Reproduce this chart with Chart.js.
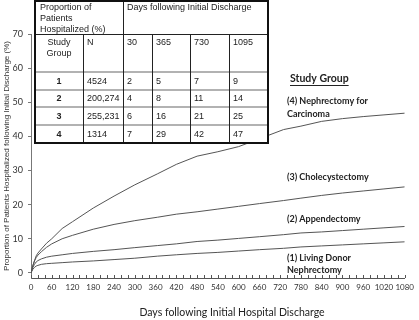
<!DOCTYPE html>
<html lang="en">
<head>
    <meta charset="UTF-8">
    <title>Hospitalization after discharge</title>
    <script src="https://cdn.jsdelivr.net/npm/chart.js"></script>
    <style>
        body { margin: 0; padding: 0; background: #fff; }
        #wrap { position: relative; width: 419px; height: 320px; }
    </style>
</head>
<body>
    <div id="wrap"><canvas id="chart" width="419" height="320"></canvas></div>

    <script>
        const days = [0, 5, 10, 15, 20, 30, 45, 60, 90, 120, 180, 240, 300, 365, 420, 480, 540, 600, 660, 730, 780, 840, 900, 960, 1020, 1080];

        // percent hospitalized, one array per study group
        const livingDonor = [0, 1.0, 1.6, 2.0, 2.2, 2.5, 2.7, 2.8, 3.0, 3.2, 3.5, 3.9, 4.3, 4.9, 5.3, 5.7, 6.0, 6.4, 6.8, 7.2, 7.6, 7.9, 8.2, 8.5, 8.8, 9.1];
        const appendectomy = [0, 1.5, 2.5, 3.2, 3.6, 4.1, 4.6, 4.9, 5.3, 5.7, 6.3, 6.8, 7.4, 8.0, 8.5, 9.2, 9.6, 10.1, 10.6, 11.2, 11.7, 12.0, 12.4, 12.8, 13.2, 13.6];
        const cholecystectomy = [0, 2.0, 3.5, 4.5, 5.2, 6.2, 7.5, 8.5, 10.0, 11.0, 12.8, 14.2, 15.3, 16.3, 17.2, 17.9, 18.7, 19.5, 20.3, 21.2, 21.9, 22.7, 23.4, 24.0, 24.6, 25.2];
        const carcinoma = [0, 2.0, 3.5, 5.0, 5.8, 7.0, 8.7, 10.0, 13.0, 15.0, 19.0, 22.5, 25.8, 29.0, 31.8, 34.2, 35.5, 37.0, 39.3, 42.0, 43.0, 44.4, 45.2, 45.8, 46.3, 46.8];

        const yTicks = [0, 10, 20, 30, 40, 50, 60, 70];

        // inset table
        const tableGroups = ['1', '2', '3', '4'];
        const tableN = ['4524', '200,274', '255,231', '1314'];
        const tableDays = ['30', '365', '730', '1095'];
        const tableValues = [
            ['2', '5', '7', '9'],
            ['4', '8', '11', '14'],
            ['6', '16', '21', '25'],
            ['7', '29', '42', '47']
        ];

        const lineColor = '#555';
        const sans = '"Liberation Sans", Arial, sans-serif';
        const humanist = 'Lato, "Open Sans", sans-serif';

        function toPoints(values) {
            return days.map((d, i) => ({ x: d, y: values[i] }));
        }

        function series(values) {
            return {
                data: toPoints(values),
                borderColor: lineColor,
                borderWidth: 1,
                pointRadius: 0,
                tension: 0,
                fill: false
            };
        }

        // table, side labels, inward x ticks, x title
        const overlay = {
            id: 'overlay',
            afterDatasetsDraw(chart) {
                const ctx = chart.ctx;
                const cols = [35, 83, 123, 152, 190, 229, 268];
                const rows = [1, 34, 72, 90, 107, 125, 143];
                ctx.save();
                ctx.fillStyle = '#fff';
                ctx.fillRect(cols[0], rows[0], cols[6] - cols[0], rows[6] - rows[0]);

                // row separators between data rows
                ctx.strokeStyle = '#999';
                ctx.lineWidth = 1.5;
                [2, 3, 4, 5].forEach(r => {
                    ctx.beginPath();
                    ctx.moveTo(cols[0], rows[r]);
                    ctx.lineTo(cols[6], rows[r]);
                    ctx.stroke();
                });
                ctx.strokeStyle = '#222';
                ctx.lineWidth = 1;
                ctx.beginPath();
                ctx.moveTo(cols[0], rows[1] + 0.5);
                ctx.lineTo(cols[6], rows[1] + 0.5);
                ctx.stroke();
                // vertical separators
                cols.slice(1, 6).forEach(c => {
                    ctx.beginPath();
                    ctx.moveTo(c + 0.5, c === 123 ? rows[0] : rows[1]);
                    ctx.lineTo(c + 0.5, rows[6]);
                    ctx.stroke();
                });
                ctx.lineWidth = 2;
                ctx.strokeStyle = '#111';
                ctx.strokeRect(cols[0], rows[0], cols[6] - cols[0], rows[6] - rows[0]);

                ctx.fillStyle = '#222';
                ctx.font = '9px ' + sans;
                ctx.textBaseline = 'middle';
                ctx.textAlign = 'left';
                ['Proportion of', 'Patients', 'Hospitalized (%)'].forEach((t, i) => ctx.fillText(t, 40, 8 + i * 11));
                ctx.fillText('Days following Initial Discharge', 127, 8);
                ctx.textAlign = 'center';
                ctx.fillText('Study', 59, 43);
                ctx.fillText('Group', 59, 54);
                ctx.textAlign = 'left';
                ctx.fillText('N', 87, 43);
                tableDays.forEach((t, i) => ctx.fillText(t, cols[i + 2] + 4, 43));
                tableGroups.forEach((g, r) => {
                    const y = (rows[r + 2] + rows[r + 3]) / 2 + 0.5;
                    ctx.font = 'bold 9px ' + sans;
                    ctx.textAlign = 'center';
                    ctx.fillText(g, 59, y);
                    ctx.font = '9px ' + sans;
                    ctx.textAlign = 'left';
                    ctx.fillText(tableN[r], 87, y);
                    tableValues[r].forEach((v, i) => ctx.fillText(v, cols[i + 2] + 4, y));
                });
                ctx.restore();
            },
            afterDraw(chart) {
                const ctx = chart.ctx;
                const xs = chart.scales.x;
                const bottom = chart.chartArea.bottom;
                ctx.save();
                ctx.strokeStyle = lineColor;
                ctx.lineWidth = 1;
                xs.ticks.forEach(t => {
                    const px = Math.round(xs.getPixelForValue(t.value)) + 0.5;
                    ctx.beginPath();
                    ctx.moveTo(px, bottom);
                    ctx.lineTo(px, bottom - 3);
                    ctx.stroke();
                });

                ctx.fillStyle = '#222';
                ctx.textBaseline = 'middle';
                ctx.textAlign = 'left';
                ctx.font = 'bold 10.5px ' + humanist;
                ctx.fillText('Study Group', 290, 79);
                const w = ctx.measureText('Study Group').width;
                ctx.fillRect(290, 85, w, 1);
                ctx.font = 'bold 9px ' + humanist;
                ctx.fillText('(4) Nephrectomy for', 287, 101);
                ctx.fillText('Carcinoma', 287, 114);
                ctx.fillText('(3) Cholecystectomy', 287, 177);
                ctx.fillText('(2) Appendectomy', 287, 219);
                ctx.fillText('(1) Living Donor', 287, 258);
                ctx.fillText('Nephrectomy', 287, 270);

                ctx.font = '10.5px ' + humanist;
                ctx.textAlign = 'center';
                ctx.fillText('Days following Initial Hospital Discharge', 232, 313);
                ctx.restore();
            }
        };

        const ctx = document.getElementById('chart').getContext('2d');
        new Chart(ctx, {
            type: 'line',
            data: {
                datasets: [series(livingDonor), series(appendectomy), series(cholecystectomy), series(carcinoma)]
            },
            options: {
                responsive: false,
                animation: false,
                layout: { padding: { top: 34, right: 12, bottom: 0, left: 0 } },
                plugins: { legend: { display: false }, tooltip: { enabled: false } },
                scales: {
                    x: {
                        type: 'linear',
                        min: 0,
                        max: 1080,
                        grid: { display: false, drawTicks: false },
                        border: { display: true, color: lineColor, width: 1 },
                        ticks: {
                            stepSize: 20,
                            autoSkip: false,
                            maxRotation: 0,
                            padding: 5,
                            color: '#333',
                            font: { family: humanist, size: 8 },
                            callback: v => (v % 60 === 0 ? String(v) : '')
                        },
                        afterFit: scale => { scale.height = 42; }
                    },
                    y: {
                        type: 'linear',
                        min: -1.5,
                        max: 70,
                        afterBuildTicks: scale => { scale.ticks = yTicks.map(v => ({ value: v })); },
                        grid: { drawOnChartArea: false, drawTicks: true, tickLength: 3, color: '#777' },
                        border: { display: true, color: '#777', dash: [1, 1] },
                        ticks: {
                            padding: 5,
                            color: '#333',
                            font: { family: humanist, size: 9 }
                        },
                        title: {
                            display: true,
                            text: 'Proportion of Patients Hospitalized following Initial Discharge (%)',
                            color: '#333',
                            font: { family: sans, size: 8 },
                            padding: { top: 2, bottom: 0 }
                        },
                        afterFit: scale => { scale.width = 31; }
                    }
                }
            },
            plugins: [overlay]
        });
    </script>
</body>
</html>
